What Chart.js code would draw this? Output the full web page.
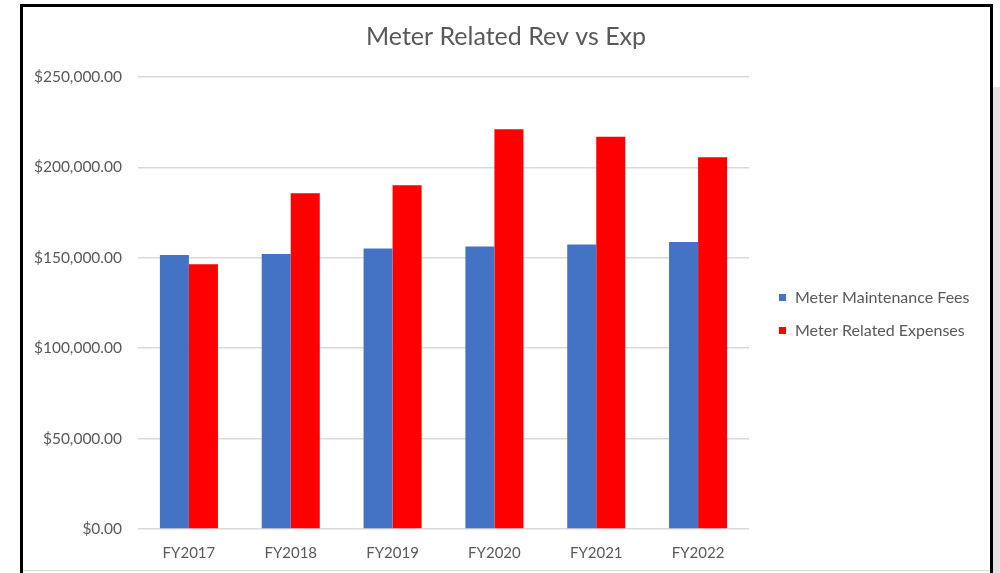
<!DOCTYPE html>
<html>
<head>
<meta charset="utf-8">
<script src="https://cdn.jsdelivr.net/npm/chart.js@4.4.1/dist/chart.umd.min.js"></script>
<style>
  html, body { margin: 0; padding: 0; background: #ffffff; width: 1000px; height: 573px; overflow: hidden; }
  #frame { position: absolute; left: 20px; top: 4px; width: 973px; height: 620px; box-sizing: border-box; border: 3px solid #000; }
  #baseRule { position: absolute; left: 23px; top: 570px; width: 967px; height: 1px; background: #d9d9d9; }
  #sideStrip { position: absolute; left: 993px; top: 87px; width: 7px; height: 486px; background: #e2e2e2; }
  #chartBox { position: absolute; left: 0; top: 0; width: 1000px; height: 573px; }
</style>
</head>
<body>
<div id="frame"></div>
<div id="baseRule"></div>
<div id="sideStrip"></div>
<div id="chartBox"><canvas id="chart" width="1000" height="573"></canvas></div>
<script>
// Fiscal years and the two series (US dollars)
const categories = ["FY2017", "FY2018", "FY2019", "FY2020", "FY2021", "FY2022"];
const maintenanceFees = [151500, 152100, 155200, 156200, 157300, 158700];
const relatedExpenses = [146400, 185700, 190100, 221100, 217000, 205600];
const seriesNames = ["Meter Maintenance Fees", "Meter Related Expenses"];
const yTicks = [0, 50000, 100000, 150000, 200000, 250000];

const FONT = "Lato, 'Open Sans', sans-serif";
const TEXT = "#595959";

const money = v => "$" + Number(v).toLocaleString("en-US", { minimumFractionDigits: 2, maximumFractionDigits: 2 });

// Title and right-hand legend drawn onto the canvas
const decorations = {
  id: "decorations",
  afterDraw(chart) {
    const ctx = chart.ctx;
    ctx.save();
    ctx.fillStyle = TEXT;
    ctx.font = "25px " + FONT;
    ctx.textAlign = "center";
    ctx.textBaseline = "middle";
    ctx.fillText("Meter Related Rev vs Exp", 506, 37);

    ctx.font = "16px " + FONT;
    ctx.textAlign = "left";
    const rows = [298, 331];
    chart.data.datasets.forEach((ds, i) => {
      ctx.fillStyle = ds.backgroundColor;
      ctx.fillRect(779, rows[i] - 4, 7, 7);
      ctx.fillStyle = TEXT;
      ctx.fillText(ds.label, 795, rows[i]);
    });
    ctx.restore();
  }
};

new Chart(document.getElementById("chart"), {
  type: "bar",
  data: {
    labels: categories,
    datasets: [
      { label: seriesNames[0], data: maintenanceFees, backgroundColor: "#4472C4" },
      { label: seriesNames[1], data: relatedExpenses, backgroundColor: "#FF0000" }
    ]
  },
  options: {
    responsive: false,
    animation: false,
    layout: { padding: { top: 77, right: 251, bottom: 0, left: 0 } },
    datasets: { bar: { categoryPercentage: 0.57, barPercentage: 1.0 } },
    plugins: {
      legend: { display: false },
      title: { display: false },
      tooltip: { enabled: false }
    },
    scales: {
      x: {
        grid: { display: false },
        border: { display: false },
        ticks: { color: TEXT, font: { family: FONT, size: 15 }, padding: 7 },
        afterFit(s) { s.height = 44; }
      },
      y: {
        min: 0,
        max: 250000,
        afterBuildTicks(s) { s.ticks = yTicks.map(v => ({ value: v })); },
        grid: { color: "#d9d9d9", lineWidth: 1.5, drawTicks: false },
        border: { display: false },
        ticks: { color: TEXT, font: { family: FONT, size: 15.5 }, padding: 16, callback: v => money(v) },
        afterFit(s) { s.width = 138; }
      }
    }
  },
  plugins: [decorations]
});
</script>
</body>
</html>
